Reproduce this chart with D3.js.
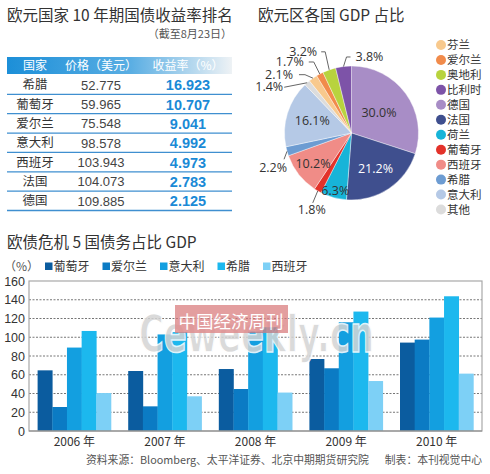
<!DOCTYPE html>
<html><head><meta charset="utf-8">
<script src="https://cdn.jsdelivr.net/npm/d3@7"></script>
<style>
body{margin:0;background:#fff;}
svg{display:block;}
text{font-family:"Noto Sans CJK SC","Noto Sans",sans-serif;}
</style></head>
<body>
<svg id="c" width="490" height="474"></svg>
<script>
// ---------- data: bond table ----------
const tableCountries = ["希腊","葡萄牙","爱尔兰","意大利","西班牙","法国","德国"];
const tablePrices = ["52.775","59.965","75.548","98.578","103.943","104.073","109.885"];
const tableYields = ["16.923","10.707","9.041","4.992","4.973","2.783","2.125"];
const tableHeaders = ["国家","价格（美元）","收益率（%）"];

// ---------- data: GDP pie ----------
const pieNames = ["德国","法国","荷兰","葡萄牙","西班牙","希腊","意大利","其他","芬兰","爱尔兰","奥地利","比利时"];
const pieValues = [30.0,21.2,6.3,1.8,10.2,2.2,16.1,1.4,2.1,1.7,3.2,3.8];
const pieColors = ["#a88dc6","#3f4f8e","#17b4d8","#e3322a","#f08c87","#6d9cd2","#b5c9e6","#dcdcdc","#f8c98d","#f18b4b","#b8d33e","#7d53a8"];
const pieLegendOrder = ["芬兰","爱尔兰","奥地利","比利时","德国","法国","荷兰","葡萄牙","西班牙","希腊","意大利","其他"];

// ---------- data: debt bars ----------
const years = ["2006 年","2007 年","2008 年","2009 年","2010 年"];
const barSeries = ["葡萄牙","爱尔兰","意大利","希腊","西班牙"];
const portugal = [64.7,64.0,66.1,76.8,94.3];
const ireland  = [25.6,26.3,44.8,66.9,97.5];
const italy    = [89.0,103.0,106.0,116.0,121.0];
const greece   = [106.7,105.5,110.7,127.4,143.7];
const spain    = [40.5,37.0,41.0,53.3,61.2];
const yTicks = [0,20,40,60,80,100,120,140,160];
const barColors = ["#0b5c9f","#0b7bc4","#139fe0","#1cb8ee","#7dd0f6"];

const svg = d3.select("#c");

// =============== Table ===============
const T = {x0:7, x1:232};
svg.append("text").attr("x",T.x0).attr("y",21).attr("font-size",15.5).attr("fill","#333")
  .text("欧元国家 10 年期国债收益率排名");
svg.append("text").attr("x",T.x1).attr("y",38).attr("text-anchor","end").attr("font-size",11).attr("fill","#555")
  .text("（截至8月23日）");

const grad = svg.append("defs").append("linearGradient").attr("id","hg");
grad.append("stop").attr("offset","0%").attr("stop-color","#1c8fd8");
grad.append("stop").attr("offset","55%").attr("stop-color","#5aaee3");
grad.append("stop").attr("offset","100%").attr("stop-color","#eef2f5");
svg.append("rect").attr("x",T.x0).attr("y",57).attr("width",T.x1-T.x0).attr("height",17).attr("fill","url(#hg)");

const colX = [35,101,188];
tableHeaders.forEach((h,i)=>{
  svg.append("text").attr("x",colX[i]).attr("y",70).attr("text-anchor","middle")
    .attr("font-size",12).attr("fill","#fff").text(h);
});
const rowY = d3.scaleBand().domain(tableCountries).range([75,210.5]);
const rows = svg.append("g").selectAll("g").data(tableCountries).join("g")
  .attr("transform",d=>`translate(0,${rowY(d)})`);
rows.append("line").attr("x1",T.x0).attr("x2",T.x1).attr("y1",rowY.bandwidth()).attr("y2",rowY.bandwidth())
  .attr("stroke","#3f8fd0").attr("stroke-width",1.3);
rows.append("text").attr("x",colX[0]).attr("y",rowY.bandwidth()/2+4.5).attr("text-anchor","middle")
  .attr("font-size",12.5).attr("fill","#333").text(d=>d);
rows.append("text").attr("x",colX[1]).attr("y",rowY.bandwidth()/2+5).attr("text-anchor","middle")
  .style("font-family","'Liberation Sans',Arial,sans-serif").attr("font-size",13).attr("fill","#444")
  .text((d,i)=>tablePrices[i]);
rows.append("text").attr("x",colX[2]).attr("y",rowY.bandwidth()/2+5.5).attr("text-anchor","middle")
  .style("font-family","'Liberation Sans',Arial,sans-serif").attr("font-size",14.5).attr("font-weight","bold").attr("fill","#1a8ad6")
  .text((d,i)=>tableYields[i]);

// =============== Pie ===============
svg.append("text").attr("x",258).attr("y",21).attr("font-size",15.5).attr("fill","#333").text("欧元区各国 GDP 占比");
const P = {cx:351.5, cy:133, r:67};
const pieData = d3.pie().sort(null).value(d=>d.v)(pieNames.map((n,i)=>({n, v:pieValues[i], c:pieColors[i]})));
const arc = d3.arc().innerRadius(0).outerRadius(P.r);
const pg = svg.append("g").attr("transform",`translate(${P.cx},${P.cy})`);
pg.selectAll("path").data(pieData).join("path").attr("d",arc).attr("fill",d=>d.data.c)
  .attr("stroke","#fff").attr("stroke-width",0.4);

// label layout (inside: radius; outside: elbow offsets from the arc point)
const inside = {"德国":{r:34,fill:"#333"},"法国":{r:43,fill:"#fff"},"意大利":{r:41,fill:"#333"},"西班牙":{r:49,fill:"#333"},"荷兰":{r:60,fill:"#333"}};
const outside = {
  "比利时":{ex:3,ey:-9.5,anchor:"start",tx:5,ty:4,hx:4},
  "奥地利":{ex:-4,ey:-18,anchor:"end",tx:-4,ty:4,hx:-4},
  "爱尔兰":{ex:-6,ey:-12,anchor:"end",tx:-5,ty:4,hx:-5},
  "芬兰":{ex:-8,ey:-3.5,anchor:"end",tx:-6,ty:4,hx:-6},
  "其他":{ex:-23,ey:4.5,anchor:"end",tx:-1,ty:4,hx:0},
  "希腊":{ex:-3,ey:8,anchor:"end",tx:3,ty:13,hx:0},
  "葡萄牙":{ex:-5,ey:12,anchor:"middle",tx:-1,ty:11,hx:0}
};
const fmt = v=>v.toFixed(1)+"%";
pieData.forEach(d=>{
  const a = (d.startAngle+d.endAngle)/2;
  const n = d.data.n;
  if(inside[n]){
    const L = inside[n];
    pg.append("text").attr("x",L.r*Math.sin(a)).attr("y",-L.r*Math.cos(a)).attr("dy","0.35em")
      .attr("text-anchor","middle").style("font-family","'Open Sans','Noto Sans',sans-serif")
      .attr("font-size",12.5).attr("fill",L.fill).text(fmt(d.data.v));
  } else if(outside[n]){
    const L = outside[n];
    const px = P.r*Math.sin(a), py = -P.r*Math.cos(a);
    const ex = px+L.ex, ey = py+L.ey;
    pg.append("polyline").attr("points",`${px},${py} ${ex},${ey} ${ex+L.hx},${ey}`)
      .attr("fill","none").attr("stroke","#555").attr("stroke-width",0.9);
    pg.append("text").attr("x",ex+L.hx+L.tx).attr("y",ey+L.ty).attr("text-anchor",L.anchor)
      .style("font-family","'Open Sans','Noto Sans',sans-serif").attr("font-size",12.5).attr("fill","#333")
      .text(fmt(d.data.v));
  }
});
const legY = d3.scalePoint().domain(pieLegendOrder).range([45,209.5]);
const lg = svg.append("g").selectAll("g").data(pieLegendOrder).join("g")
  .attr("transform",d=>`translate(441,${legY(d)})`);
lg.append("circle").attr("r",5).attr("fill",d=>pieColors[pieNames.indexOf(d)]);
lg.append("text").attr("x",6).attr("dy","0.36em").attr("font-size",11.5).attr("fill","#333").text(d=>d);

// =============== Bars ===============
svg.append("text").attr("x",7).attr("y",248).attr("font-size",15.5).attr("fill","#333").text("欧债危机 5 国债务占比 GDP");
svg.append("text").attr("x",4).attr("y",270.5).attr("font-size",12).attr("fill","#555").text("（%）");
// legend
let lx = 45;
barSeries.forEach((s,i)=>{
  svg.append("rect").attr("x",lx).attr("y",262.5).attr("width",7.5).attr("height",7.5).attr("fill",barColors[i]);
  svg.append("text").attr("x",lx+8.5).attr("y",270.5).attr("font-size",12).attr("fill","#333").text(s);
  lx += 8.5 + s.length*12 + 13;
});

const B = {l:29, r:482, t:281, b:431};
const x0 = d3.scaleBand().domain(years).range([B.l,B.r]).paddingInner(0.19).paddingOuter(0.095);
const x1 = d3.scaleBand().domain(barSeries).range([0,x0.bandwidth()]);
const y = d3.scaleLinear().domain([0,160]).range([B.b,B.t]);

svg.append("g").selectAll("line").data(yTicks.filter(t=>t>0&&t<160)).join("line")
  .attr("x1",B.l).attr("x2",B.r).attr("y1",d=>y(d)).attr("y2",d=>y(d))
  .attr("stroke","#666").attr("stroke-width",0.9).attr("stroke-dasharray","2,1.5");

const seriesVals = [portugal,ireland,italy,greece,spain];
const bg = svg.append("g");
years.forEach((yr,yi)=>{
  barSeries.forEach((s,si)=>{
    const v = seriesVals[si][yi];
    bg.append("rect").attr("x",x0(yr)+x1(s)).attr("y",y(v)).attr("width",x1.bandwidth()+0.3)
      .attr("height",y(0)-y(v)).attr("fill",barColors[si]);
  });
});
svg.append("rect").attr("x",B.l).attr("y",B.t).attr("width",B.r-B.l).attr("height",B.b-B.t)
  .attr("fill","none").attr("stroke","#a8a8a8").attr("stroke-width",1.2);
svg.append("line").attr("x1",B.l).attr("x2",B.r).attr("y1",B.b).attr("y2",B.b).attr("stroke","#888").attr("stroke-width",1.2);

const ya = svg.append("g").attr("transform",`translate(${B.l},0)`)
  .call(d3.axisLeft(y).tickValues(yTicks).tickSize(0).tickPadding(4));
ya.select(".domain").remove();
ya.selectAll("text").style("font-family","'Liberation Sans',Arial,sans-serif").attr("font-size",12.5).attr("fill","#333");

const xa = svg.append("g").attr("transform",`translate(0,${B.b})`)
  .call(d3.axisBottom(x0).tickSize(0).tickPadding(6));
xa.select(".domain").remove();
xa.selectAll("text").attr("font-size",12).attr("fill","#333");

// watermark
const wm = svg.append("g").attr("opacity",0.85);
wm.append("text").attr("x",139).attr("y",352).attr("textLength",235).attr("lengthAdjust","spacingAndGlyphs")
  .style("font-family","'DejaVu Sans',sans-serif").attr("font-weight","bold").attr("font-size",52)
  .attr("fill","#d4d4d4").attr("stroke","#fff").attr("stroke-width",1.5).text("Ceweekly.cn");
wm.append("rect").attr("x",175).attr("y",305).attr("width",113).attr("height",28).attr("fill","#d97a7b").attr("opacity",0.85);
wm.append("text").attr("x",231).attr("y",328).attr("text-anchor","middle").attr("font-size",17.5)
  .attr("fill","#fff").text("中国经济周刊");

// source
svg.append("text").attr("x",86).attr("y",464).attr("font-size",10.8).attr("fill","#555")
  .text("资料来源：Bloomberg、太平洋证券、北京中期期货研究院");
svg.append("text").attr("x",482).attr("y",464).attr("text-anchor","end").attr("font-size",10.8).attr("fill","#555")
  .text("制表：本刊视觉中心");
</script>
</body></html>
